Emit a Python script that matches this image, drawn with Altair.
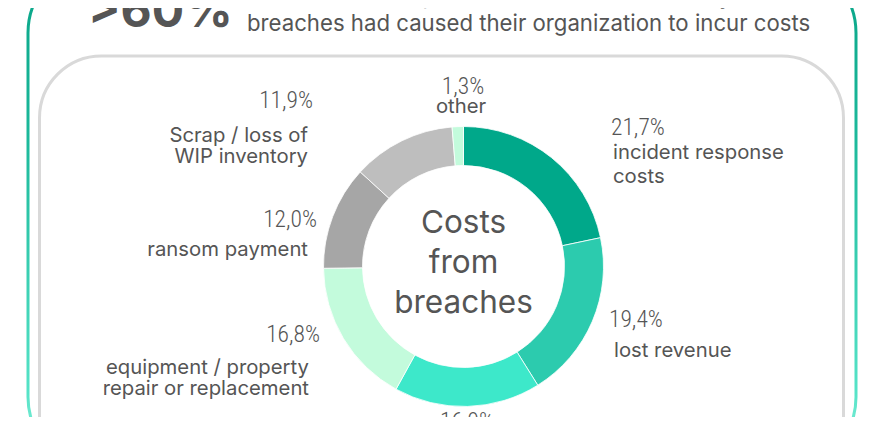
import altair as alt
import pandas as pd

# ---------------- data ----------------
categories = [
    "incident response costs",
    "lost revenue",
    "segment below view",
    "equipment / property repair or replacement",
    "ransom payment",
    "Scrap / loss of WIP inventory",
    "other",
]
shares = [21.7, 19.4, 16.9, 16.8, 12.0, 11.9, 1.3]
label_lines = [
    ["incident response", "costs"],
    ["lost revenue"],
    [],
    ["equipment / property", "repair or replacement"],
    ["ransom payment"],
    ["Scrap / loss of", "WIP inventory"],
    ["other"],
]
center_lines = ["Costs", "from", "breaches"]
headline_value = ">60%"
headline_lines = [
    "of industrial companies indicated that security",
    "breaches had caused their organization to incur costs",
]

# ---------------- styles / layout ----------------
colors = ["#00A88A", "#2CCBAE", "#3DE8CA", "#C3FBDC", "#A6A6A6", "#BEBEBE", "#C3FBDC"]
TXT = "#555555"
W, H = 876, 409
CX, CY = 455.5, 258.5
R_OUT, R_IN = 140, 101

pct_pos = [(603, 127, "left"), (601, 319, "left"), (459, 421, "center"),
           (312, 334, "right"), (309, 219, "right"), (305, 100, "right"),
           (455, 86, "center")]
lab_pos = [(605, [151, 175], "left"), (606, [349], "left"), (0, [], "left"),
           (301, [366, 387], "right"), (300, [248], "right"),
           (300, [134, 155], "right"), (453, [105], "center")]
center_y = [225, 265, 305]
headline_pos = (80, 19)
headline_text_pos = (239, [-4, 23])

PCT_FONT = "Liberation Sans Narrow, Roboto Condensed, Roboto"
LAB_FONT = "Inter, Noto Sans, sans-serif"

# ---------------- tables ----------------
arc_df = pd.DataFrame({"category": categories, "share": shares,
                       "idx": list(range(len(categories)))})

pct_rows, lab_rows = [], []
for i, (cat, v) in enumerate(zip(categories, shares)):
    px, py, pa = pct_pos[i]
    pct_rows.append({"text": f"{v:.1f}".replace(".", ",") + "%", "x": px, "y": py, "align": pa})
    lx, lys, la = lab_pos[i]
    for line, ly in zip(label_lines[i], lys):
        lab_rows.append({"text": line, "x": lx, "y": ly, "align": la})
pct_df = pd.DataFrame(pct_rows)
lab_df = pd.DataFrame(lab_rows)
center_df = pd.DataFrame({"text": center_lines, "x": [CX] * 3, "y": center_y})
head_df = pd.DataFrame({"text": headline_lines,
                        "x": [headline_text_pos[0]] * 2, "y": headline_text_pos[1]})
big_df = pd.DataFrame({"text": [headline_value], "x": [headline_pos[0]], "y": [headline_pos[1]]})
one = pd.DataFrame({"k": [0]})


def text_layer(df, align, font, size, weight=400):
    sub = df[df["align"] == align] if "align" in df.columns else df
    return alt.Chart(sub).mark_text(
        align=align, baseline="alphabetic", font=font, fontSize=size,
        fontWeight=weight, color=TXT,
    ).encode(
        x=alt.X("x:Q", scale=None, axis=None),
        y=alt.Y("y:Q", scale=None, axis=None),
        text="text:N",
    )


gradient = alt.LinearGradient(
    gradient="linear", x1=0, y1=0, x2=0, y2=1,
    stops=[alt.GradientStop(color="#07A386", offset=0),
           alt.GradientStop(color="#1CB99B", offset=0.35),
           alt.GradientStop(color="#55E3C7", offset=0.85),
           alt.GradientStop(color="#A0F5E2", offset=1)],
)

outer = alt.Chart(one).mark_rect(
    fillOpacity=0, stroke=gradient, strokeWidth=3, cornerRadius=72
).encode(x=alt.value(20), x2=alt.value(848), y=alt.value(-47), y2=alt.value(461))

inner = alt.Chart(one).mark_rect(
    fillOpacity=0, stroke="#D9D9D9", strokeWidth=3, cornerRadius=62
).encode(x=alt.value(31.5), x2=alt.value(835.5), y=alt.value(48), y2=alt.value(520))

donut = alt.Chart(arc_df).mark_arc(
    innerRadius=R_IN, outerRadius=R_OUT, stroke="white", strokeWidth=0.8
).encode(
    theta=alt.Theta("share:Q", stack=True),
    order=alt.Order("idx:Q", sort="ascending"),
    color=alt.Color("category:N", scale=alt.Scale(domain=categories, range=colors), legend=None),
    x=alt.value(CX), y=alt.value(CY),
)

layers = [outer, inner, donut]
for a in ["left", "right", "center"]:
    if (pct_df["align"] == a).any():
        layers.append(text_layer(pct_df, a, PCT_FONT, 23.5, weight=300))
    if (lab_df["align"] == a).any():
        layers.append(text_layer(lab_df, a, LAB_FONT, 20.3))
layers.append(alt.Chart(center_df).mark_text(
    align="center", baseline="alphabetic", font=LAB_FONT, fontSize=31.5, color=TXT
).encode(x=alt.X("x:Q", scale=None, axis=None), y=alt.Y("y:Q", scale=None, axis=None), text="text:N"))
layers.append(text_layer(head_df, "left", LAB_FONT, 22.2))
layers.append(text_layer(big_df, "left", LAB_FONT, 48, weight=700))

chart = alt.layer(*layers).properties(
    width=W, height=H, autosize=alt.AutoSizeParams(type="none"), padding=0,
    background="white",
).configure_view(stroke=None)

chart.save("out.html", embed_options={"renderer": "svg", "actions": False})
